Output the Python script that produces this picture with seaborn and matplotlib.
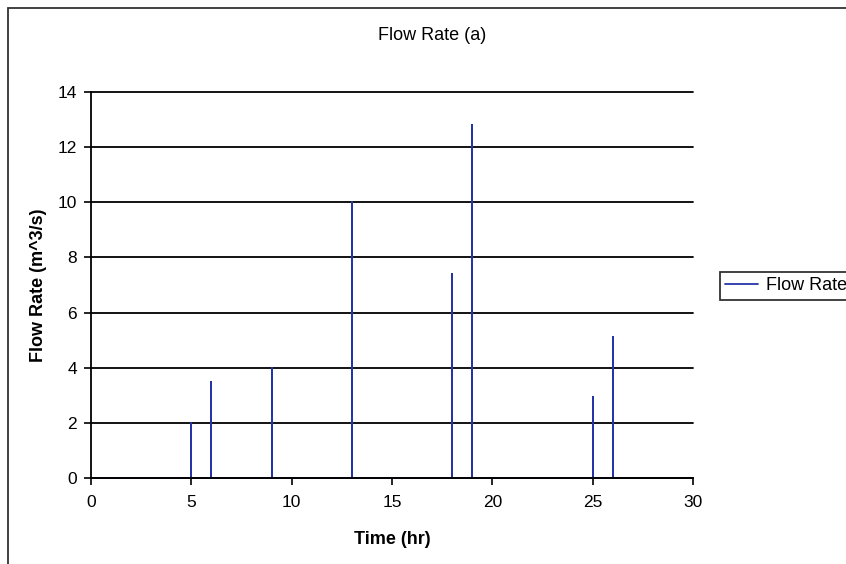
import numpy as np
import pandas as pd
import matplotlib
matplotlib.use("Agg")
import matplotlib.pyplot as plt
import seaborn as sns
from matplotlib.patches import Rectangle

# Spikes (time in hr, flow in m^3/s)
spike_times = [5, 6, 9, 13, 18, 19, 25, 26]
spike_flows = [2.0, 3.5, 4.0, 10.0, 7.4, 12.8, 2.95, 5.1]
x_ticks = [0, 5, 10, 15, 20, 25, 30]
y_ticks = [0, 2, 4, 6, 8, 10, 12, 14]

# Each spike goes up and back down at the same time -> vertical line
times = [0] + list(np.repeat(spike_times, 3))
flows = [0] + [v for f in spike_flows for v in (0, f, 0)]
df = pd.DataFrame({"Time": times, "Flow Rate": flows})

sns.set_theme(style="white")
plt.rcParams["font.family"] = ["Liberation Sans", "DejaVu Sans"]
plt.rcParams["text.color"] = "black"
plt.rcParams["axes.labelcolor"] = "black"

W, H = 846, 564
fig = plt.figure(figsize=(W / 100, H / 100), dpi=100)
ax = fig.add_axes([91 / W, 1 - 478 / H, (693 - 91) / W, (478 - 92) / H])

sns.lineplot(data=df, x="Time", y="Flow Rate", ax=ax, sort=False, estimator=None,
             color="#2535a8", linewidth=1.3, label="Flow Rate")

ax.set_xlim(0, 30)
ax.set_ylim(0, 14)
ax.set_xticks(x_ticks)
ax.set_yticks(y_ticks)
ax.yaxis.grid(True, color="black", linewidth=1.3)
for gl in ax.get_ygridlines():
    gl.set_clip_on(False)
ax.set_axisbelow(True)
for side in ["top", "right"]:
    ax.spines[side].set_visible(False)
for side in ["left", "bottom"]:
    ax.spines[side].set_color("black")
    ax.spines[side].set_linewidth(1.3)
ax.tick_params(axis="both", direction="out", length=5, width=1.2, color="black",
               labelsize=12.5, labelcolor="black", bottom=True, left=True)
ax.tick_params(axis="x", pad=7)
ax.tick_params(axis="y", pad=5)

ax.set_xlabel("Time (hr)", fontsize=13, fontweight="bold", labelpad=15)
ax.set_ylabel("Flow Rate (m^3/s)", fontsize=13, fontweight="bold", labelpad=8)
fig.text(432 / W, 1 - 35 / H, "Flow Rate (a)", ha="center", va="center", fontsize=13)

ax.legend(loc="center left", bbox_to_anchor=(720 / W, 1 - 286 / H),
          bbox_transform=fig.transFigure, frameon=True, fancybox=False,
          edgecolor="black", fontsize=13, handlelength=1.8, borderpad=0.3,
          handletextpad=0.45, borderaxespad=0)
ax.get_legend().get_frame().set_linewidth(1.3)

fig.patches.append(Rectangle((8 / W, -0.1), 1.0, 1.1 - 8 / H, transform=fig.transFigure,
                             fill=False, edgecolor="#333333", linewidth=1.3))

fig.savefig("out.png", dpi=100)
